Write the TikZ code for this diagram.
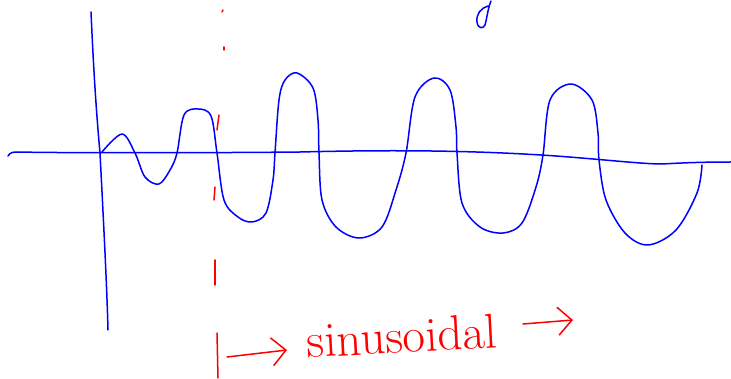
\documentclass[tikz,border=0pt]{standalone}
\usepackage{tikz}
\usetikzlibrary{arrows.meta}

\begin{document}
\begin{tikzpicture}[
    x=1pt, y=-1pt,
    % --- Estilos del boceto ---
    ink/.style={blue, line width=1.5pt, line cap=round, line join=round},
    redink/.style={red, line width=1.5pt, line cap=round, line join=round},
    barb/.style={-{Straight Barb[length=14pt, width=28pt, line width=1.5pt]}},
    handlabel/.style={red, font=\fontsize{49}{49}\selectfont, inner sep=0pt, rotate=3}
]
\useasboundingbox (0,0) rectangle (731,379);

% ====== Ejes ======
\draw[ink] (91,12) .. controls (94,80) and (97,120) .. (100,153)
                   .. controls (104,230) and (107,290) .. (108,330);
\draw[ink] (8,156) .. controls (10,152) and (14,152) .. (18,152)
    .. controls (60,153) and (200,153) .. (300,152)
    .. controls (380,150) and (460,150) .. (541,155)
    .. controls (590,158) and (640,164) .. (662,164)
    .. controls (680,163) and (700,162) .. (731,162);

% ====== Onda ======
\draw[ink] plot[smooth, tension=0.55] coordinates {
    (102,152) (122,134) (135,153) (145,177) (159,184) (170,170) (177,153)
    (184,115) (198,109) (211,116) (217,153)
    (224,200) (238,217) (252,222) (266,213) (273,180) (275,153)
    (279,100) (285,80) (297,73) (313,88) (318,120) (319,153)
    (322,200) (336,227) (359,238) (382,227) (396,190) (406,153)
    (415,97) (434,78) (450,90) (456,127) (457,153)
    (462,203) (480,227) (503,233) (522,223) (536,187) (543,155)
    (550,100) (571,84) (592,100) (598,133) (599,160)
    (606,200) (625,233) (648,245) (676,230) (697,193) (702,165)};

% --- trazo suelto arriba ---
\draw[ink] (491,1) .. controls (488,8) and (487,18) .. (485,25)
    .. controls (483,29) and (478,29) .. (477,22)
    .. controls (476,14) and (481,8) .. (488,6);

% ====== Linea roja punteada ======
\foreach \ya/\yb/\xa/\xb in {10/12/223/222, 47/50/224/224, 115/130/219/217,
                             187/200/215/214, 260/285/215/215, 333/378/217/218}
    \draw[redink] (\xa,\ya) -- (\xb,\yb);

% ====== Etiqueta ======
\node[handlabel] (sinus) at (402,336) {sinusoidal};
\coordinate (startA) at (227,357);
\coordinate (tipA) at (287,350);
\coordinate (startB) at (523,324);
\coordinate (tipB) at (573,320);

\draw[redink, barb] (startA) -- (tipA);
\draw[redink, barb] (startB) -- (tipB);

\end{tikzpicture}
\end{document}
